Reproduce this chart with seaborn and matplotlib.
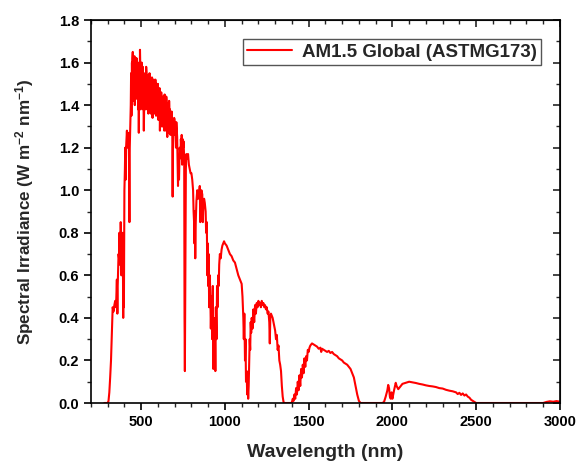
import numpy as np
import pandas as pd
import matplotlib
matplotlib.use("Agg")
import matplotlib.pyplot as plt
import seaborn as sns
from matplotlib.ticker import MultipleLocator

wavelength = [
    280, 295, 300, 305, 310, 315, 320, 325, 330, 335, 340, 345, 350, 355, 358, 360, 365, 368, 370, 373,
    375, 378, 380, 382, 385, 388, 390, 393, 395, 397, 400, 403, 405, 408, 410, 413, 415, 418, 420, 423,
    425, 427, 430, 432, 435, 438, 440, 443, 445, 448, 450, 453, 455, 458, 460, 463, 465, 468, 470, 473,
    476, 480, 483, 486, 488, 490, 493, 495, 498, 500, 503, 505, 508, 510, 513, 516, 518, 520, 523, 526,
    530, 533, 536, 540, 545, 550, 555, 560, 565, 570, 575, 580, 585, 589, 592, 595, 600, 605, 610, 615,
    620, 625, 628, 630, 635, 640, 645, 650, 653, 656, 658, 662, 667, 672, 678, 682, 686, 688, 690, 693,
    697, 700, 705, 710, 715, 718, 720, 723, 726, 730, 733, 737, 742, 748, 753, 757, 759, 761, 763, 765,
    767, 770, 775, 780, 785, 790, 795, 800, 805, 810, 813, 816, 818, 820, 823, 826, 830, 835, 840, 845,
    850, 853, 856, 860, 865, 868, 872, 876, 880, 885, 888, 892, 895, 898, 900, 903, 906, 910, 913, 916,
    920, 924, 928, 931, 934, 937, 940, 943, 946, 950, 953, 956, 960, 963, 966, 970, 975, 980, 985, 990,
    995, 1000, 1010, 1020, 1030, 1040, 1050, 1060, 1070, 1080, 1090, 1100, 1105, 1110, 1113, 1116, 1120, 1123, 1126, 1130,
    1133, 1136, 1139, 1142, 1145, 1148, 1151, 1154, 1157, 1160, 1165, 1170, 1175, 1180, 1185, 1190, 1195, 1200, 1205, 1210,
    1215, 1220, 1225, 1230, 1235, 1240, 1245, 1250, 1255, 1260, 1265, 1268, 1271, 1275, 1280, 1285, 1290, 1295, 1300, 1305,
    1310, 1315, 1320, 1325, 1330, 1335, 1340, 1345, 1350, 1355, 1395, 1400, 1405, 1410, 1415, 1420, 1425, 1430, 1435, 1440,
    1445, 1450, 1455, 1460, 1465, 1470, 1475, 1480, 1485, 1490, 1495, 1500, 1505, 1510, 1520, 1530, 1540, 1550, 1560, 1570,
    1575, 1580, 1590, 1600, 1610, 1620, 1630, 1640, 1650, 1660, 1670, 1680, 1690, 1700, 1710, 1720, 1730, 1740, 1750, 1760,
    1770, 1780, 1790, 1800, 1810, 1940, 1950, 1960, 1970, 1975, 1980, 1985, 1990, 1995, 2000, 2010, 2020, 2025, 2035, 2045,
    2060, 2080, 2100, 2120, 2140, 2160, 2180, 2200, 2220, 2240, 2260, 2280, 2300, 2320, 2340, 2360, 2380, 2390, 2400, 2410,
    2420, 2430, 2440, 2450, 2460, 2470, 2480, 2490, 2500, 2900, 2920, 2940, 2960, 2980, 3000,
]

irradiance = [
    0.0, 0.0, 0.0001, 0.009, 0.05, 0.12, 0.2, 0.32, 0.45, 0.43, 0.46, 0.48, 0.45, 0.58, 0.42, 0.55, 0.7, 0.68, 0.8, 0.65,
    0.72, 0.85, 0.78, 0.6, 0.72, 0.66, 0.8, 0.4, 0.78, 0.45, 1.0, 1.1, 1.2, 1.05, 1.2, 1.25, 1.28, 1.2, 1.25, 1.27,
    1.25, 1.2, 0.85, 1.2, 1.3, 1.4, 1.55, 1.45, 1.6, 1.62, 1.65, 1.55, 1.62, 1.6, 1.63, 1.55, 1.58, 1.62, 1.5, 1.62,
    1.58, 1.6, 1.55, 1.27, 1.55, 1.6, 1.66, 1.58, 1.52, 1.55, 1.6, 1.57, 1.52, 1.58, 1.48, 1.28, 1.4, 1.5, 1.55, 1.52,
    1.58, 1.5, 1.48, 1.54, 1.5, 1.55, 1.53, 1.48, 1.53, 1.5, 1.52, 1.5, 1.52, 1.35, 1.5, 1.48, 1.5, 1.47, 1.48, 1.42,
    1.46, 1.4, 1.3, 1.44, 1.43, 1.45, 1.42, 1.44, 1.4, 1.25, 1.4, 1.41, 1.42, 1.38, 1.36, 1.37, 1.25, 0.97, 1.2, 1.3,
    1.34, 1.33, 1.3, 1.32, 1.25, 1.1, 1.02, 1.15, 1.05, 1.2, 1.18, 1.24, 1.26, 1.24, 1.23, 1.15, 0.4, 0.15, 0.5, 0.9,
    1.1, 1.17, 1.15, 1.17, 1.12, 1.1, 1.08, 1.08, 1.05, 1.0, 0.9, 0.85, 0.75, 0.9, 0.68, 0.85, 0.95, 1.0, 0.96, 0.98,
    1.02, 0.85, 0.98, 1.0, 0.98, 0.85, 0.95, 0.96, 0.94, 0.9, 0.8, 0.85, 0.6, 0.75, 0.55, 0.7, 0.45, 0.6, 0.5, 0.35,
    0.5, 0.3, 0.55, 0.16, 0.4, 0.2, 0.35, 0.15, 0.45, 0.3, 0.55, 0.45, 0.6, 0.55, 0.65, 0.7, 0.68, 0.72, 0.74, 0.75,
    0.76, 0.75, 0.74, 0.72, 0.7, 0.69, 0.67, 0.66, 0.63, 0.6, 0.58, 0.56, 0.5, 0.4, 0.3, 0.42, 0.2, 0.3, 0.1, 0.15,
    0.04, 0.1, 0.02, 0.08, 0.18, 0.3, 0.25, 0.38, 0.33, 0.4, 0.35, 0.44, 0.38, 0.46, 0.42, 0.47, 0.45, 0.48, 0.46, 0.47,
    0.45, 0.48, 0.46, 0.47, 0.45, 0.46, 0.44, 0.45, 0.42, 0.43, 0.38, 0.28, 0.4, 0.42, 0.41, 0.4, 0.38, 0.36, 0.34, 0.3,
    0.32, 0.25, 0.27, 0.2, 0.18, 0.15, 0.08, 0.03, 0.005, 0.0, 0.0, 0.003, 0.02, 0.01, 0.04, 0.02, 0.07, 0.04, 0.1, 0.06,
    0.13, 0.08, 0.16, 0.12, 0.18, 0.14, 0.21, 0.17, 0.22, 0.2, 0.25, 0.24, 0.26, 0.27, 0.28, 0.275, 0.27, 0.265, 0.255, 0.26,
    0.24, 0.255, 0.25, 0.245, 0.24, 0.245, 0.235, 0.24, 0.23, 0.225, 0.22, 0.21, 0.205, 0.2, 0.19, 0.185, 0.18, 0.17, 0.16, 0.14,
    0.12, 0.08, 0.04, 0.01, 0.0, 0.0, 0.005, 0.03, 0.06, 0.085, 0.07, 0.03, 0.02, 0.05, 0.02, 0.06, 0.095, 0.08, 0.065, 0.075,
    0.09, 0.095, 0.1, 0.097, 0.094, 0.09, 0.087, 0.083, 0.08, 0.078, 0.075, 0.07, 0.068, 0.062, 0.058, 0.055, 0.05, 0.042, 0.048, 0.038,
    0.045, 0.035, 0.04, 0.03, 0.025, 0.015, 0.01, 0.005, 0.0, 0.0, 0.005, 0.008, 0.006, 0.009, 0.006,
]

# extra fine-structure readings in the visible band
wavelength_fine = [
    442, 447, 452, 457, 462, 467, 472, 478, 482, 485, 492, 497, 502, 507, 512, 522, 528, 532, 538, 543,
    548, 553, 558, 563, 568, 573, 578, 583, 598, 603, 608, 612, 618, 623, 633, 638, 643, 648, 660, 665,
    670, 675, 680, 703, 708, 713, 735, 740, 745, 751,
]
irradiance_fine = [
    1.35, 1.5, 1.42, 1.52, 1.4, 1.5, 1.43, 1.48, 1.38, 1.45, 1.47, 1.38, 1.45, 1.4, 1.38, 1.42, 1.38, 1.55, 1.38, 1.36,
    1.42, 1.38, 1.36, 1.4, 1.34, 1.4, 1.36, 1.4, 1.36, 1.33, 1.4, 1.28, 1.36, 1.3, 1.32, 1.28, 1.35, 1.28, 1.3, 1.27,
    1.33, 1.26, 1.3, 1.26, 1.2, 1.28, 1.15, 1.2, 1.12, 1.2,
]

series_label = "AM1.5 Global (ASTMG173)"
x_label = "Wavelength (nm)"
y_label = r"Spectral Irradiance (W m$^{\mathbf{-2}}$ nm$^{\mathbf{-1}}$)"

df = pd.DataFrame({"wl": wavelength + wavelength_fine,
                   "irr": irradiance + irradiance_fine}).sort_values("wl")

sns.set_style("ticks")
plt.rcParams["font.family"] = ["Liberation Sans", "DejaVu Sans"]
plt.rcParams["font.weight"] = "bold"
plt.rcParams["mathtext.fontset"] = "custom"
plt.rcParams["mathtext.rm"] = "Liberation Sans:bold"
plt.rcParams["mathtext.bf"] = "Liberation Sans:bold"
plt.rcParams["mathtext.default"] = "bf"

fig = plt.figure(figsize=(5.79, 4.62), dpi=100)
ax = fig.add_axes([0.157, 0.1277, 0.81, 0.829])

sns.lineplot(data=df, x="wl", y="irr", color="#ff0000", linewidth=1.5,
             estimator=None, sort=True, label=series_label, ax=ax)

ax.set_xlim(200, 3000)
ax.set_ylim(0, 1.8)
ax.xaxis.set_major_locator(MultipleLocator(500))
ax.xaxis.set_minor_locator(MultipleLocator(100))
ax.yaxis.set_major_locator(MultipleLocator(0.2))
ax.yaxis.set_minor_locator(MultipleLocator(0.1))
ax.yaxis.set_major_formatter(matplotlib.ticker.FormatStrFormatter("%.1f"))

for side in ["left", "right", "top", "bottom"]:
    ax.spines[side].set_visible(True)
    ax.spines[side].set_linewidth(1.2)
    ax.spines[side].set_color("black")

ax.tick_params(axis="both", which="major", direction="out", length=5, width=1.2,
               labelsize=10.5, colors="black")
ax.tick_params(axis="both", which="minor", direction="out", length=3, width=1.0)
# top/right ticks inward, Origin style
axt = ax.secondary_xaxis("top")
axt.xaxis.set_major_locator(MultipleLocator(500))
axt.xaxis.set_minor_locator(MultipleLocator(100))
axt.tick_params(which="major", direction="in", length=5, width=1.2, labeltop=False)
axt.tick_params(which="minor", direction="in", length=3, width=1.0)
axr = ax.secondary_yaxis("right")
axr.yaxis.set_major_locator(MultipleLocator(0.2))
axr.yaxis.set_minor_locator(MultipleLocator(0.1))
axr.tick_params(which="major", direction="in", length=5, width=1.2, labelright=False)
axr.tick_params(which="minor", direction="in", length=3, width=1.0)

for lbl in ax.get_xticklabels() + ax.get_yticklabels():
    lbl.set_fontweight("bold")

ax.set_xlabel(x_label, fontsize=14, fontweight="bold", labelpad=11)
ax.set_ylabel(y_label, fontsize=12.3, fontweight="bold", labelpad=16)

leg = ax.legend(loc="upper right", bbox_to_anchor=(0.98, 0.975), frameon=True,
                fancybox=False, edgecolor="#555555", framealpha=1,
                prop={"size": 13.5, "weight": "bold"}, handlelength=2.4,
                borderpad=0.25, handletextpad=0.5)
leg.get_frame().set_linewidth(1.0)

fig.savefig("out.png", dpi=100)
